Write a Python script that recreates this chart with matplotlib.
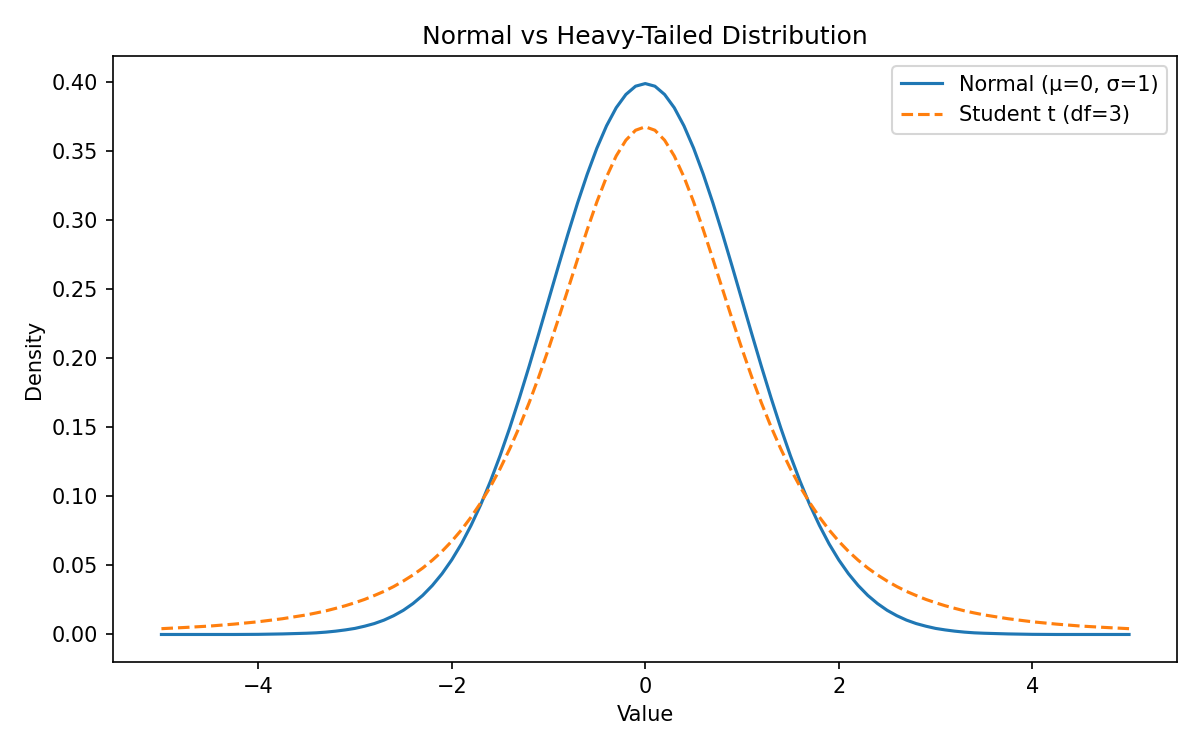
import matplotlib.pyplot as plt

# x positions and densities
x = [-5.0, -4.75, -4.5, -4.25, -4.0, -3.75,
     -3.5, -3.4, -3.3, -3.2, -3.1, -3.0, -2.9, -2.8, -2.7, -2.6, -2.5,
     -2.4, -2.3, -2.2, -2.1, -2.0, -1.9, -1.8, -1.7, -1.6, -1.5,
     -1.4, -1.3, -1.2, -1.1, -1.0, -0.9, -0.8, -0.7, -0.6, -0.5,
     -0.4, -0.3, -0.2, -0.1, 0.0, 0.1, 0.2, 0.3, 0.4, 0.5,
     0.6, 0.7, 0.8, 0.9, 1.0, 1.1, 1.2, 1.3, 1.4, 1.5,
     1.6, 1.7, 1.8, 1.9, 2.0, 2.1, 2.2, 2.3, 2.4, 2.5,
     2.6, 2.7, 2.8, 2.9, 3.0, 3.1, 3.2, 3.3, 3.4, 3.5,
     3.75, 4.0, 4.25, 4.5, 4.75, 5.0]

normal = [0.0, 0.0, 0.0, 0.0, 0.0001, 0.0004,
          0.0009, 0.0012, 0.0017, 0.0024, 0.0033, 0.0044, 0.0060, 0.0079, 0.0104, 0.0136, 0.0175,
          0.0224, 0.0283, 0.0355, 0.0440, 0.0540, 0.0656, 0.0790, 0.0940, 0.1109, 0.1295,
          0.1497, 0.1714, 0.1942, 0.2179, 0.2420, 0.2661, 0.2897, 0.3123, 0.3332, 0.3521,
          0.3683, 0.3814, 0.3910, 0.3970, 0.3989, 0.3970, 0.3910, 0.3814, 0.3683, 0.3521,
          0.3332, 0.3123, 0.2897, 0.2661, 0.2420, 0.2179, 0.1942, 0.1714, 0.1497, 0.1295,
          0.1109, 0.0940, 0.0790, 0.0656, 0.0540, 0.0440, 0.0355, 0.0283, 0.0224, 0.0175,
          0.0136, 0.0104, 0.0079, 0.0060, 0.0044, 0.0033, 0.0024, 0.0017, 0.0012, 0.0009,
          0.0004, 0.0001, 0.0, 0.0, 0.0, 0.0]

student_t = [0.0042, 0.0051, 0.0061, 0.0075, 0.0092, 0.0114,
             0.0142, 0.0156, 0.0171, 0.0189, 0.0208, 0.0230, 0.0254, 0.0282, 0.0312, 0.0347, 0.0387,
             0.0431, 0.0481, 0.0538, 0.0602, 0.0675, 0.0757, 0.0850, 0.0954, 0.1070, 0.1200,
             0.1345, 0.1504, 0.1678, 0.1866, 0.2067, 0.2279, 0.2497, 0.2716, 0.2930, 0.3132,
             0.3313, 0.3465, 0.3579, 0.3651, 0.3676, 0.3651, 0.3579, 0.3465, 0.3313, 0.3132,
             0.2930, 0.2716, 0.2497, 0.2279, 0.2067, 0.1866, 0.1678, 0.1504, 0.1345, 0.1200,
             0.1070, 0.0954, 0.0850, 0.0757, 0.0675, 0.0602, 0.0538, 0.0481, 0.0431, 0.0387,
             0.0347, 0.0312, 0.0282, 0.0254, 0.0230, 0.0208, 0.0189, 0.0171, 0.0156, 0.0142,
             0.0114, 0.0092, 0.0075, 0.0061, 0.0051, 0.0042]

fig, ax = plt.subplots(figsize=(8, 5), dpi=150)
ax.plot(x, normal, label="Normal (μ=0, σ=1)")
ax.plot(x, student_t, "--", label="Student t (df=3)")
ax.set_title("Normal vs Heavy-Tailed Distribution")
ax.set_xlabel("Value")
ax.set_ylabel("Density")
ax.legend()
fig.subplots_adjust(left=0.0942, right=0.9812, top=0.9253, bottom=0.1173)
fig.savefig("out.png")
